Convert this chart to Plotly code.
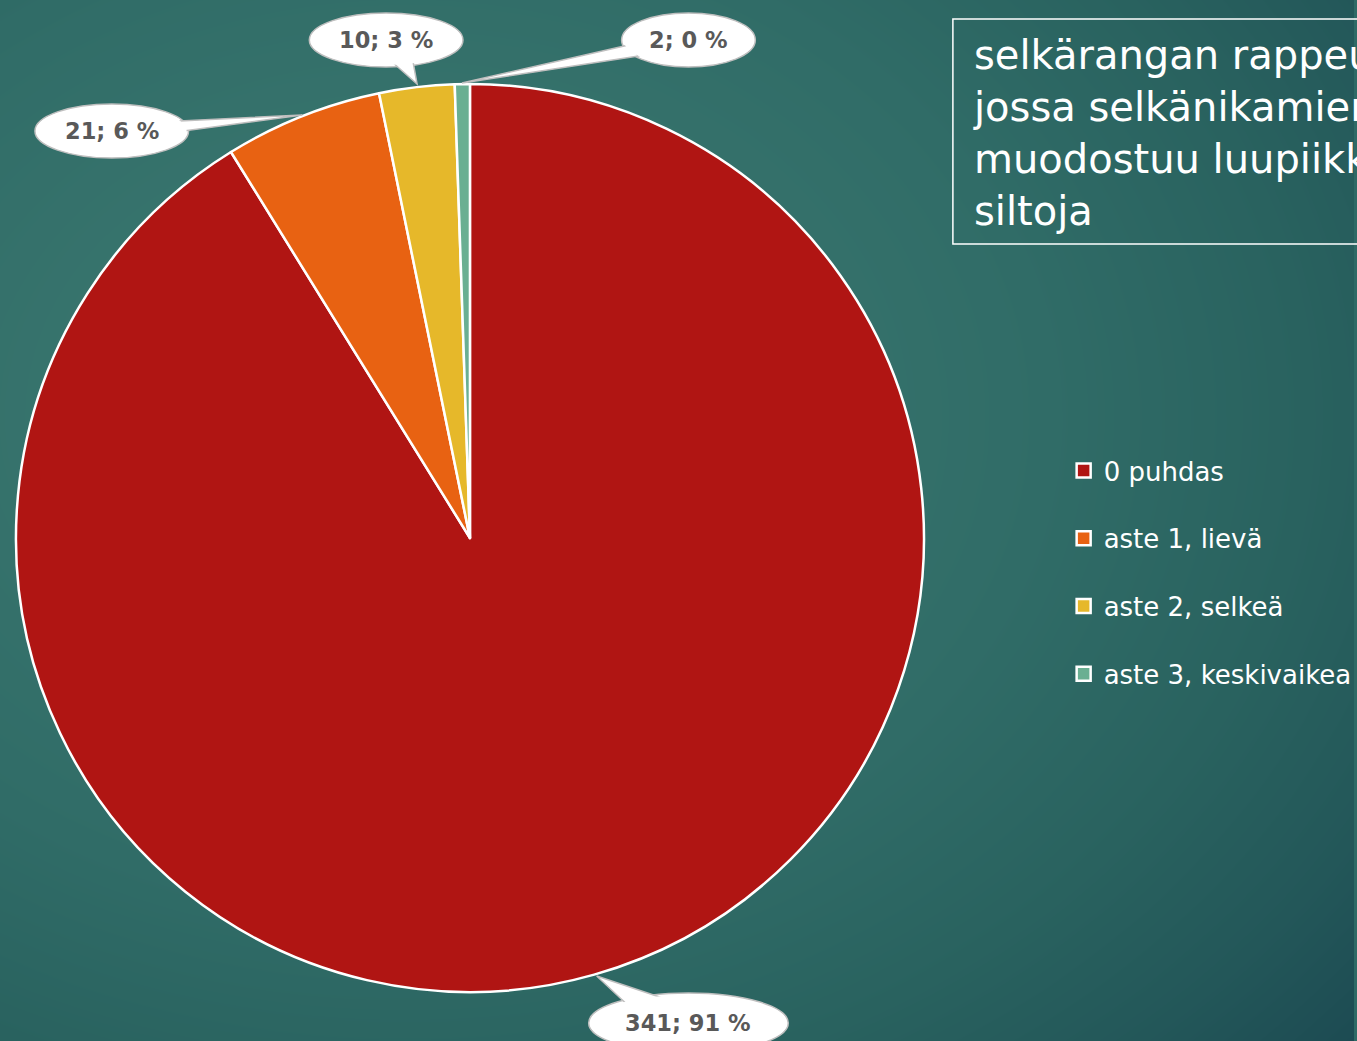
import numpy as np
import plotly.graph_objects as go

W, H = 1357, 1041

# ---- data ----
categories = ["0 puhdas", "aste 1, lievä", "aste 2, selkeä", "aste 3, keskivaikea"]
values = [341, 21, 10, 2]
data_labels = ["341; 91 %", "21; 6 %", "10; 3 %", "2; 0 %"]
colors = ["#b01513", "#e86212", "#e6b82a", "#6aaf92"]
title_text = "selkärangan rappeuma,<br>jossa selkänikamien väliin<br>muodostuu luupiikkejä ja<br>siltoja"

def px(x):
    return x / W

def py(y):
    return 1 - y / H

fig = go.Figure()

# background gradient
n = 40
gx = np.linspace(0, 1, n)
gy = np.linspace(0, 1, n)
X, Y = np.meshgrid(gx, gy)
Ytop = 1 - Y
Z = np.sqrt((X - 0.3) ** 2 + (Ytop - 0.4) ** 2)
fig.add_trace(go.Heatmap(
    x=gx, y=gy, z=Z, zmin=0, zmax=0.95, zsmooth="best", showscale=False, hoverinfo="skip",
    colorscale=[[0, "#3f7c73"], [0.5, "#306c67"], [0.7, "#29625f"], [0.85, "#235759"], [1, "#1b4851"]],
    xaxis="x", yaxis="y",
))

# pie
fig.add_trace(go.Pie(
    labels=categories, values=values, sort=False, direction="clockwise", rotation=0,
    marker=dict(colors=colors, line=dict(color="white", width=2.5)),
    textinfo="none", showlegend=False, hoverinfo="label+value+percent",
    domain=dict(x=[px(16), px(926)], y=[py(993), py(83)]),
))

# legend entries
for i, (c, col) in enumerate(zip(categories, colors)):
    fig.add_trace(go.Scatter(
        x=[None], y=[None], mode="markers", name=c, legendgroup=f"g{i}",
        marker=dict(symbol="square", size=14, color=col, line=dict(color="white", width=2.5)),
        xaxis="x", yaxis="y",
    ))

# callout bubbles (center_x, center_y, rx, ry, tip, base1, base2)
callouts = [
    (690, 1023, 100, 30, (598, 976), (628, 1004), (664, 998)),
    (112, 131, 77, 27, (303, 115), (180, 121), (184, 131)),
    (387, 40, 77, 27, (418, 84), (393, 62), (414, 62)),
    (690, 40, 67, 27, (463, 83), (630, 45), (640, 56)),
]
shapes = []
annotations = []
for lab, (cx, cy, rx, ry, tip, b1, b2) in zip(data_labels, callouts):
    shapes.append(dict(type="circle", xref="paper", yref="paper",
                       x0=px(cx - rx), x1=px(cx + rx), y0=py(cy + ry), y1=py(cy - ry),
                       fillcolor="white", line=dict(color="#bfbfbf", width=1.5), layer="above"))
    path = f"M {px(b1[0])},{py(b1[1])} L {px(tip[0])},{py(tip[1])} L {px(b2[0])},{py(b2[1])} Z"
    shapes.append(dict(type="path", xref="paper", yref="paper", path=path,
                       fillcolor="white", line=dict(color="#bfbfbf", width=1.5), layer="above"))
    shapes.append(dict(type="circle", xref="paper", yref="paper",
                       x0=px(cx - rx + 2), x1=px(cx + rx - 2), y0=py(cy + ry - 2), y1=py(cy - ry + 2),
                       fillcolor="white", line=dict(width=0), layer="above"))
    annotations.append(dict(x=px(cx), y=py(cy), xref="paper", yref="paper", text=f"<b>{lab}</b>",
                            showarrow=False, font=dict(family="DejaVu Sans", size=22.5, color="#595959"),
                            xanchor="center", yanchor="middle"))

# title box
shapes.append(dict(type="rect", xref="paper", yref="paper",
                   x0=px(955), x1=px(1500), y0=py(244), y1=py(19),
                   line=dict(color="white", width=1.5), fillcolor="rgba(0,0,0,0)", layer="above"))
annotations.append(dict(x=px(973), y=py(30), xref="paper", yref="paper", text=title_text,
                        showarrow=False, align="left", xanchor="left", yanchor="top",
                        font=dict(family="DejaVu Sans", size=40, color="white")))

fig.update_layout(
    width=W, height=H,
    margin=dict(l=0, r=0, t=0, b=0),
    paper_bgcolor="#2e6a66", plot_bgcolor="rgba(0,0,0,0)",
    xaxis=dict(domain=[0, 1], range=[0, 1], visible=False, fixedrange=True),
    yaxis=dict(domain=[0, 1], range=[0, 1], visible=False, fixedrange=True),
    shapes=shapes, annotations=annotations,
    showlegend=True,
    legend=dict(x=px(1066), y=py(447), xanchor="left", yanchor="top",
                font=dict(family="DejaVu Sans", size=26, color="white"),
                tracegroupgap=31, bgcolor="rgba(0,0,0,0)", itemclick=False),
)

fig.write_html("out.html", config={"displayModeBar": False},
               post_script="document.body.style.margin='0';document.body.style.overflow='hidden';")
